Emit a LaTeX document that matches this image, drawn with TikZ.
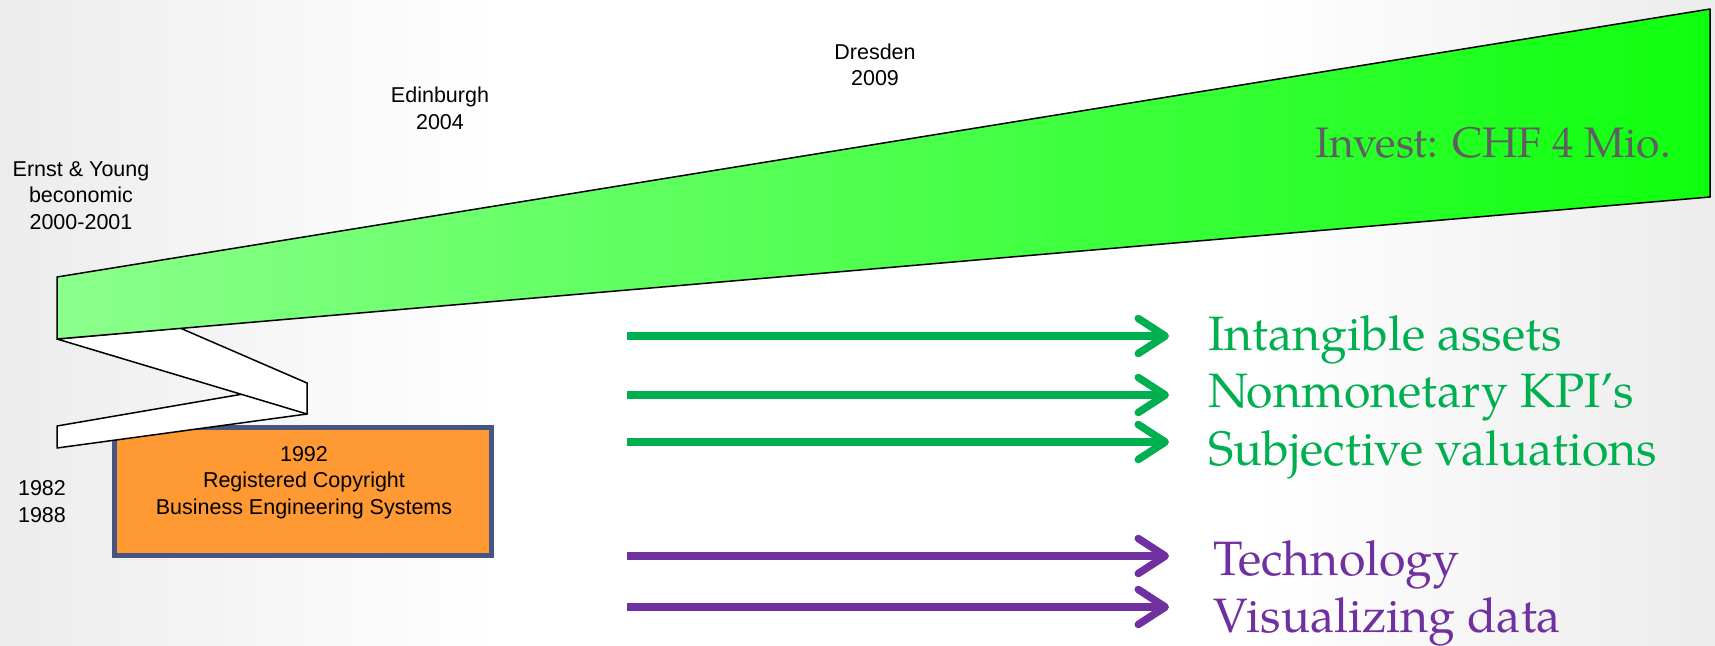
\documentclass[tikz,border=0pt]{standalone}
\usepackage{fontspec}
\setmainfont{Liberation Sans}
\newfontfamily\pal{TeX Gyre Pagella}
\usetikzlibrary{arrows.meta}
\definecolor{arrgreen}{RGB}{0,176,80}
\definecolor{arrpurple}{RGB}{112,48,160}
\definecolor{bandL}{RGB}{140,255,140}
\definecolor{bandR}{RGB}{15,255,15}
\definecolor{boxfill}{RGB}{255,153,51}
\definecolor{boxline}{RGB}{70,85,130}
\definecolor{investgray}{RGB}{95,95,95}
\definecolor{bggray}{RGB}{236,236,236}
\begin{document}
\begin{tikzpicture}[x=1pt,y=-1pt,
 lbl/.style={inner sep=0pt, align=center, font=\fontsize{21.5}{26.5}\selectfont},
 big/.style={inner sep=0pt, anchor=base west, font=\pal\fontsize{48.3}{50}\selectfont},
 outl/.style={draw=black, line width=1.5pt, line join=round},
 arr/.style={line width=7.5pt, -{Straight Barb[length=27pt,width=35pt,round]}},
]
\useasboundingbox (0,0) rectangle (1715,645);
\fill[white] (0,0) rectangle (1715,645);
\shade[left color=bggray, right color=white] (0,0) rectangle (500,645);
\shade[left color=white, right color=bggray] (1250,0) rectangle (1715,645);

% orange box
\node[draw=boxline, line width=5pt, fill=boxfill, minimum width=377pt, minimum height=128pt, inner sep=0pt, outer sep=0pt, anchor=north west] (box) at (114,427.5) {};
\node[lbl] (boxtext) at (304,482.5) {1992\\Registered Copyright\\Business Engineering Systems};

% white ribbons
\filldraw[fill=white, outl] (57,426) -- (307,383) -- (307,414) -- (57,448) -- cycle;
\filldraw[fill=white, outl] (57,339) -- (180,328) -- (307,383) -- (307,414) -- cycle;

% green band
\shadedraw[left color=bandL, right color=bandR, outl] (57,277) -- (1710,9) -- (1710,197) -- (57,339) -- cycle;

% labels
\node[lbl] (ey) at (81,195.5) {Ernst \& Young\\beconomic\\2000-2001};
\node[lbl] (edin) at (440,108.5) {Edinburgh\\2004};
\node[lbl] (dres) at (875,65) {Dresden\\2009};
\node[lbl] (early) at (42,501.5) {1982\\1988};
\node[inner sep=0pt, anchor=base east, text=investgray, font=\pal\fontsize{42.7}{44}\selectfont] (invest) at (1671,157) {Invest: CHF 4 Mio.};

% right texts
\node[big, text=arrgreen] (t1) at (1208,350) {Intangible assets};
\node[big, text=arrgreen] (t2) at (1208,407) {Nonmonetary KPI’s};
\node[big, text=arrgreen] (t3) at (1208,465) {Subjective valuations};
\node[big, text=arrpurple] (t4) at (1213,575) {Technology};
\node[big, text=arrpurple] (t5) at (1213,632) {Visualizing data};

% arrows
\coordinate (s1) at (627,336); \coordinate (e1) at (1169,336);
\coordinate (s2) at (627,395); \coordinate (e2) at (1169,395);
\coordinate (s3) at (627,442); \coordinate (e3) at (1169,442);
\coordinate (s4) at (627,556); \coordinate (e4) at (1169,556);
\coordinate (s5) at (627,607); \coordinate (e5) at (1169,607);
\draw[arr, arrgreen] (s1) -- (e1);
\draw[arr, arrgreen] (s2) -- (e2);
\draw[arr, arrgreen] (s3) -- (e3);
\draw[arr, arrpurple] (s4) -- (e4);
\draw[arr, arrpurple] (s5) -- (e5);
\end{tikzpicture}
\end{document}
